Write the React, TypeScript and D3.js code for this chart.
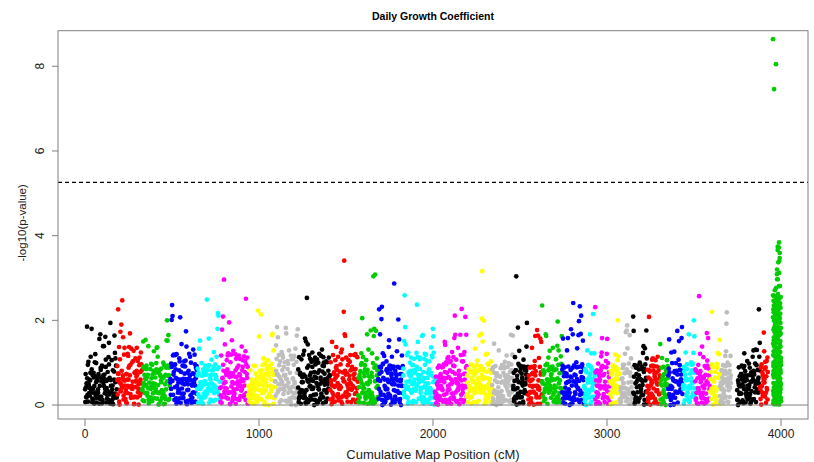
import React from "react";
import * as d3 from "d3";

// coarse value code: each character = -log10(p) in tenths (0..9, a=1.0 ... z=3.5, A=3.6 ...)
const CODE = "0123456789abcdefghijklmnopqrstuvwxyzABCDEFGH";

const chrStart = [0, 184, 328, 489, 644, 776, 937, 1092, 1224, 1408, 1569, 1684, 1828, 2011, 2195, 2339, 2460, 2546, 2626, 2741, 2868, 2931, 3017, 3075, 3149, 3230, 3305, 3351, 3437, 3506, 3592, 3649, 3747, 3879, 3954];
const chrEnd = [184, 328, 489, 644, 776, 937, 1092, 1224, 1408, 1569, 1684, 1828, 2011, 2195, 2339, 2460, 2546, 2626, 2741, 2868, 2931, 3017, 3075, 3149, 3230, 3305, 3351, 3437, 3506, 3592, 3649, 3713, 3879, 3925, 4000];

// tenths of -log10(p) per marker, in map order within each chromosome
const chrValues = [
  "3715i20a46" + "25b3i07316" + "4ac2905637" + "1f4g82609d" + "5d72ga0413" + "6be20j53a1" + "4027gcb513",
  "52m7d0ah3j" + "4o6g2bd513" + "702cb6d4g9" + "1d3a5ac072" + "b46d1a305b" + "27c93",
  "31f5082f49" + "627d051839" + "40728c1563" + "9ddb402871" + "58316a0924" + "73fkf6g815",
  "529knlb7b9" + "4b81c06253" + "bak07e3516" + "2a49ahd071" + "36c5b2a041" + "7d35b90628",
  "3807d2f519" + "6048271935" + "2o839f0461" + "7a3580c249" + "16b3ill825",
  "42b0h6k8t3" + "e517a3bc2j" + "60ab4f17c3" + "25c8a63b41" + "b7a253d8a6" + "1b4acp27b9",
  "2130412503" + "1423052413" + "26m5g417l3" + "8295b60973" + "5819a07284" + "639gg8c714",
  "52eai7g3b6" + "0a41c5bb27" + "3a1ig40a95" + "c173b0a46b" + "2b51d0ag3h",
  "40b2713a56" + "3b7c2f0f3p" + "6e05b4a27a" + "1c34a06b92" + "5a07a3c416" + "b2d70ba345" + "0a2a163b57",
  "3a50e1b274" + "0a6d825b13" + "749c0da62m" + "ygg3b1704a" + "26ab503e81" + "4b72c063b5",
  "2617085c9k" + "3b406912a5" + "g84d3052h1" + "7c29ugi0u5" + "h4b81",
  "51m7g38kn0" + "c92b6041a8" + "375df92806" + "b4189s0273" + "6c39k2f815" + "07b42",
  "83fpie25b1" + "4c073a6b29" + "0518a7430c" + "nbe615ab37" + "2g5g70ac41" + "ba36052a74" + "1d3bbigc05",
  "3102540316" + "2574183069" + "5ee0a27b3b" + "61a4a05c72" + "b1flg3a503" + "d4706gb2ma" + "3ab1c7k4g2",
  "2508137496" + "1635092d84" + "70a4618g52" + "9gkvf38j06" + "4b27c91538" + "60a42",
  "4081e35920" + "7314c06285" + "3902718a46" + "1b57392064" + "g83bg",
  "3715b28u06" + "4i92c07385" + "1640a92853" + "7dj29",
  "26083519d4" + "7302ag841h" + "0g5b39f7e2",
  "n5280731gg" + "4906b25c83" + "1759d20846" + "3a80ej2c17" + "50b9g",
  "39f0628415" + "7c2f935018" + "h640go1973" + "25a8d14gj0" + "n3gl692f58",
  "4182073c59" + "263g09c841" + "l52c7",
  "n703814925" + "6038bcf419" + "27053a8cf3" + "91640",
  "2051739048" + "3b6280akb4" + "17",
  "1306248519" + "7c2h0hid35" + "92g71b4038",
  "kh29051743" + "6081a93528" + "4cd08d53hb",
  "3816k27049" + "5a2b83061a" + "7394b05282",
  "e408b6193725081a46",
  "38f7201c49" + "6250c81397" + "2h05af4836" + "7fi28",
  "40718c5293" + "61g4073a58" + "29ckg1",
  "518206493p" + "7c8250d41b" + "6394720ha5" + "f8136",
  "3719m20845" + "1603928c4c" + "7f",
  "2051846390" + "7318b2cjl4" + "a6073914b5",
  "3105826407" + "2941603c58" + "0635a17294" + "8250371b6c" + "1749d05d38" + "26mbe",
  "4180937265" + "hc52a806a3" + "b7",
  "k3p7e0b9ma" + "5h2o8c1lf6" + "n4g0j9d3pi" + "2b7mk5e8a1" + "o6h3r0l9f4" +
    "j8n2d7g5p0" + "a3i6b9k1e7" + "m4r0h8c2l5" + "f9j3n6d1g7" + "p2a8i4b0u3" +
    "w5t1e7m3o9" + "h2c6lAfBt4" + "n7d5q3p0i9" + "x2b8k4e6m1" + "o3h7cs5lB9" +
    "Cjvn06dyg2" + "p8a4iy1zbk" + "3e7s5o9h2c" + "l6f0j8n4d3" + "g7p1a5i9b0",
];

// hundredths digit of each marker's -log10(p), same order as chrValues
const chrFine = [
  "7391548260" + "2846071935" + "5102968473" + "8657302419" + "4928176053" + "0375849162" + "6219430587",
  "9564718320" + "1730295846" + "3481607295" + "7391548260" + "0375849162" + "28460",
  "5102968473" + "6219430587" + "4928176053" + "9564718320" + "8657302419" + "1730295846",
  "3481607295" + "2846071935" + "0375849162" + "7391548260" + "6219430587" + "5102968473",
  "8657302419" + "9564718320" + "4928176053" + "1730295846" + "2846071935",
  "0375849162" + "3481607295" + "6219430587" + "5102968473" + "7391548260" + "9564718320",
  "4928176053" + "8657302419" + "1730295846" + "2846071935" + "3481607295" + "0375849162",
  "6219430587" + "7391548260" + "5102968473" + "9564718320" + "8657302419",
  "1730295846" + "4928176053" + "0375849162" + "3481607295" + "2846071935" + "6219430587" + "7391548260",
  "5102968473" + "8657302419" + "9564718320" + "1730295846" + "4928176053" + "2846071935",
  "3481607295" + "0375849162" + "7391548260" + "6219430587" + "51029",
  "9564718320" + "2846071935" + "8657302419" + "4928176053" + "1730295846" + "03758",
  "6219430587" + "3481607295" + "5102968473" + "7391548260" + "0375849162" + "9564718320" + "8657302419",
  "2846071935" + "1730295846" + "4928176053" + "6219430587" + "3481607295" + "5102968473" + "7391548260",
  "0375849162" + "9564718320" + "8657302419" + "2846071935" + "4928176053" + "17302",
  "7391548260" + "5102968473" + "3481607295" + "1730295846" + "62194",
  "8657302419" + "0375849162" + "9564718320" + "28460",
  "4928176053" + "6219430587" + "3481607295",
  "5102968473" + "1730295846" + "7391548260" + "2846071935" + "86573",
  "0375849162" + "4928176053" + "9564718320" + "6219430587" + "3481607295",
  "2846071935" + "8657302419" + "51029",
  "1730295846" + "7391548260" + "0375849162" + "95647",
  "6219430587" + "4928176053" + "34",
  "3481607295" + "5102968473" + "8657302419",
  "9564718320" + "2846071935" + "7391548260",
  "0375849162" + "1730295846" + "6219430587",
  "4928176053" + "51029684",
  "8657302419" + "3481607295" + "9564718320" + "28460",
  "7391548260" + "0375849162" + "173029",
  "6219430587" + "5102968473" + "4928176053" + "86573",
  "2846071935" + "9564718320" + "34",
  "1730295846" + "3481607295" + "0375849162",
  "5102968473" + "7391548260" + "6219430587" + "8657302419" + "4928176053" + "95647",
  "3481607295" + "1730295846" + "28",
  "7391548260" + "2846071935" + "5102968473" + "8657302419" + "4928176053" +
    "0375849162" + "6219430587" + "9564718320" + "1730295846" + "3481607295" +
    "0375849162" + "5102968473" + "1730295846" + "7391548260" + "9564718320" +
    "4928176053" + "2846071935" + "3481607295" + "6219430587" + "8657302419",
];

// low-signal markers (-log10 p below 1) filling the bulk of each chromosome:
// two digits per marker = hundredths
const D1 = "07421863955128407639";
const D2 = "84152976033068541721";
const D3 = "29670314885693127045";
const D4 = "61389057247812966403";
const D5 = "45093782166027549318";
const D6 = "92746108533549816270";
const D7 = "13584629077360458892";
const D8 = "70261945384218037756";
const D9 = "56817230499437605182";
const D10 = "38904571626185294013";

const chrLow = [
  D1 + D2 + D3 + D4 + D5,
  D6 + D7 + D8 + D9,
  D10 + D1 + D2 + D3,
  D4 + D5 + D6 + D7,
  D8 + D9 + D10,
  D1 + D2 + D3 + D4,
  D5 + D6 + D7 + D8,
  D9 + D10 + D1,
  D2 + D3 + D4 + D5 + D6,
  D7 + D8 + D9 + D10,
  D1 + D2 + D3,
  D4 + D5 + D6 + D7,
  D8 + D9 + D10 + D1 + D2,
  D3 + D4 + D5 + D6 + D7,
  D8 + D9 + D10 + D1,
  D2 + D3 + D4,
  D5 + D6,
  D7 + D8,
  D9 + D10 + D1,
  D2 + D3 + D4,
  D5 + D6,
  D7 + D8,
  D9 + D10,
  D1 + D2,
  D3 + D4,
  D5 + D6,
  D7,
  D8 + D9,
  D10 + D1,
  D2 + D3,
  D4,
  D5 + D6,
  D7 + D8 + D9,
  D10,
  "",
];

// the three significant markers at the end of the map
const peakPos = [3954, 3971, 3960];
const peakVal = [8.64, 8.05, 7.46];
const peakChr = [34, 34, 34];

const xTicks = [0, 1000, 2000, 3000, 4000];
const yTicks = [0, 2, 4, 6, 8];
const threshold = 5.26;
const palette = ["#000000", "#FF0000", "#00CD00", "#0000FF", "#00FFFF", "#FF00FF", "#FFFF00", "#BEBEBE"];

const W = 814;
const H = 462;
const L = 58, R = 808, T = 30.7, B = 419;

export default function App() {
  const x = d3.scaleLinear().domain([-155, 4155]).range([L, R]);
  const y = d3.scaleLinear().domain([-0.33, 8.84]).range([B, T]);

  const pts: { px: number; py: number; c: string }[] = [];
  chrValues.forEach((s, c) => {
    const st = chrStart[c];
    const w = chrEnd[c] - chrStart[c];
    const col = palette[c % 8];
    const low = chrLow[c];
    const m = Math.floor(low.length / 2);
    for (let j = 0; j < m; j++) {
      const v = +low.substr(j * 2, 2) / 100;
      const pos = st + ((j + 0.5) * w) / m;
      pts.push({ px: x(pos), py: y(v), c: col });
    }
    const n = s.length;
    const fine = chrFine[c];
    for (let i = 0; i < n; i++) {
      const hd = fine && i < fine.length ? +fine[i] : 0;
      const v = CODE.indexOf(s[i]) / 10 + hd / 100;
      const pos = st + ((i + 0.5) * w) / n;
      pts.push({ px: x(pos), py: y(v), c: col });
    }
  });
  peakPos.forEach((p, i) => {
    pts.push({ px: x(p), py: y(peakVal[i]), c: palette[peakChr[i] % 8] });
  });

  const font = "'Liberation Sans', Arial, Helvetica, sans-serif";
  const axisCol = "#808080";

  return (
    <svg width={W} height={H} style={{ position: "absolute", left: 0, top: 0, background: "#fff" }} fontFamily={font}>
      <rect x={0} y={0} width={W} height={H} fill="#fff" />
      <text x={(L + R) / 2} y={19.5} textAnchor="middle" fontSize={10.5} fontWeight="bold" fill="#000">
        Daily Growth Coefficient
      </text>
      {pts.map((p, i) => (
        <circle key={i} cx={p.px} cy={p.py} r={2.35} fill={p.c} />
      ))}
      <line x1={L} x2={R} y1={y(0)} y2={y(0)} stroke={axisCol} strokeWidth={1} />
      <line x1={L} x2={R} y1={y(threshold)} y2={y(threshold)} stroke="#000" strokeWidth={1.3} strokeDasharray="4,3" />
      <rect x={L} y={T} width={R - L} height={B - T} fill="none" stroke={axisCol} strokeWidth={1} />
      {yTicks.map((t) => (
        <g key={"y" + t}>
          <line x1={L - 6} x2={L} y1={y(t)} y2={y(t)} stroke={axisCol} strokeWidth={1} />
          <text transform={`translate(43.5,${y(t)}) rotate(-90)`} textAnchor="middle" fontSize={12} fill="#222">
            {t}
          </text>
        </g>
      ))}
      {xTicks.map((t) => (
        <g key={"x" + t}>
          <line x1={x(t)} x2={x(t)} y1={B} y2={B + 7} stroke={axisCol} strokeWidth={1} />
          <text x={x(t)} y={437.5} textAnchor="middle" fontSize={12} fill="#222">
            {t}
          </text>
        </g>
      ))}
      <text x={(L + R) / 2} y={458.5} textAnchor="middle" fontSize={13} fill="#222">
        Cumulative Map Position (cM)
      </text>
      <text transform={`translate(26,${(T + B) / 2 - 2}) rotate(-90)`} textAnchor="middle" fontSize={11.5} fill="#222">
        -log10(p-value)
      </text>
    </svg>
  );
}
